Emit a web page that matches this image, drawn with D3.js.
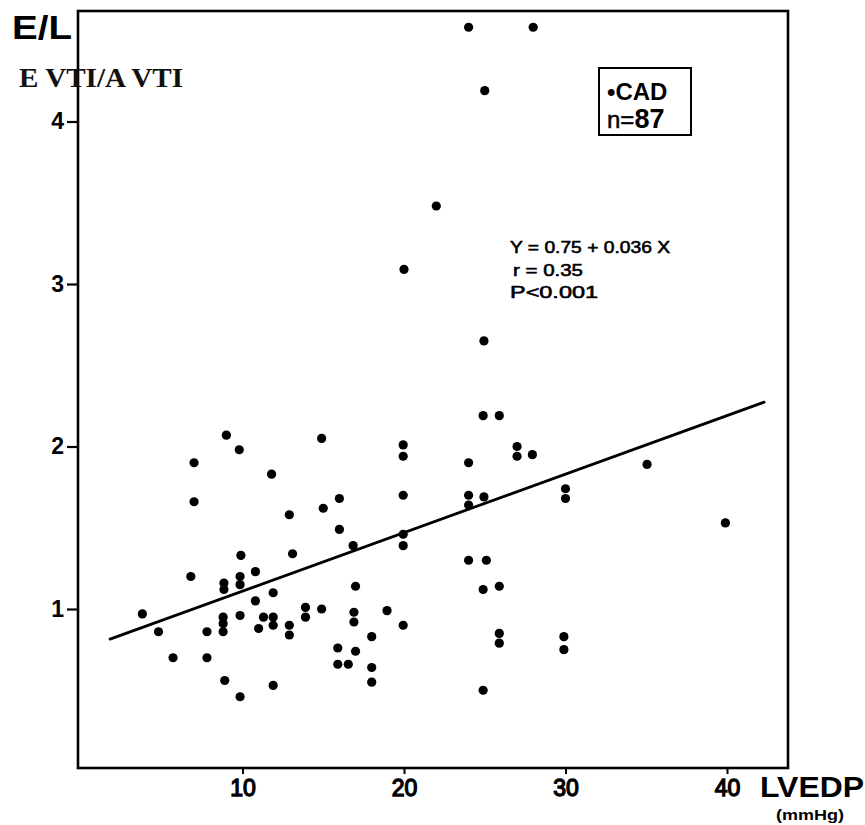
<!DOCTYPE html>
<html>
<head>
<meta charset="utf-8">
<script src="https://cdn.jsdelivr.net/npm/d3@7/dist/d3.min.js"></script>
<style>
  html, body { margin: 0; padding: 0; background: #fff; }
  svg { display: block; }
</style>
</head>
<body>
<div id="chart"></div>
<script>
// LVEDP (mmHg)
const lvedp = [
  9, 9.8, 7, 11.8, 7, 12.9, 9.9, 13.1, 10.8, 6.8,
  9.85, 9.85, 8.85, 8.85, 3.8, 4.8, 11.9, 10.8, 8.8, 8.8,
  8.8, 9.85, 11.3, 11.9, 11.9, 11, 12.9, 12.9, 7.8, 5.7,
  7.8, 8.9, 11.9, 9.85, 14.9, 19.95, 19.95, 19.95, 16, 15,
  16, 16.85, 19.95, 19.95, 17, 13.9, 13.9, 14.9, 16.9, 16.9,
  18.95, 19.95, 18, 15.9, 17, 15.9, 16.55, 18, 18, 24.9,
  25.9, 27, 27, 27.95, 24, 24, 24, 24.95, 30, 30,
  24, 25.1, 24.9, 25.9, 25.9, 25.9, 29.9, 29.9, 24.9, 24,
  28, 25, 22, 20, 24.95, 35.05, 39.9
];
// E VTI / A VTI
const ratio = [
  2.07, 1.98, 1.90, 1.83, 1.66, 1.58, 1.33, 1.34, 1.23, 1.20,
  1.20, 1.15, 1.16, 1.12, 0.97, 0.86, 1.10, 1.05, 0.95, 0.91,
  0.86, 0.96, 0.95, 0.95, 0.90, 0.88, 0.90, 0.84, 0.86, 0.70,
  0.70, 0.56, 0.53, 0.46, 2.05, 2.01, 1.94, 1.70, 1.68, 1.62,
  1.49, 1.39, 1.46, 1.39, 1.14, 1.01, 0.95, 1.00, 0.98, 0.92,
  0.99, 0.90, 0.83, 0.76, 0.74, 0.66, 0.66, 0.64, 0.55, 2.19,
  2.19, 2.00, 1.94, 1.95, 1.90, 1.70, 1.64, 1.69, 1.74, 1.68,
  1.30, 1.30, 1.12, 1.14, 0.85, 0.79, 0.83, 0.75, 0.50, 4.58,
  4.58, 4.19, 3.48, 3.09, 2.65, 1.89, 1.53
];
const xTicks = [10, 20, 30, 40];
const yTicks = [1, 2, 3, 4];
const fitIntercept = 0.75, fitSlope = 0.036;
const fitRange = [1.8, 42.3];
const statLines = ["Y = 0.75 + 0.036 X", "r = 0.35", "P<0.001"];

const W = 865, H = 825;
const frame = {left: 78, right: 788, top: 11, bottom: 768};

const svg = d3.select("#chart").append("svg")
  .attr("width", W).attr("height", H)
  .style("font-family", "'Liberation Sans', Arial, sans-serif");

const x = d3.scaleLinear().domain([0, 40]).range([81, 727]);
const y = d3.scaleLinear().domain([0, 4]).range([771.5, 121.5]);

// frame
svg.append("rect")
  .attr("x", frame.left).attr("y", frame.top)
  .attr("width", frame.right - frame.left).attr("height", frame.bottom - frame.top)
  .attr("fill", "none").attr("stroke", "#000").attr("stroke-width", 2.6);

// y axis
const gy = svg.append("g").attr("transform", `translate(${frame.left},0)`)
  .call(d3.axisLeft(y).tickValues(yTicks).tickSize(11).tickPadding(3).tickFormat(d3.format("d")));
gy.select(".domain").remove();
gy.selectAll(".tick line").attr("stroke", "#000").attr("stroke-width", 2.2);
gy.selectAll(".tick text").attr("fill", "#000")
  .style("font-size", "23px").style("font-weight", "bold");

// x axis
const gx = svg.append("g").attr("transform", `translate(0,${frame.bottom})`)
  .call(d3.axisBottom(x).tickValues(xTicks).tickSize(6).tickPadding(6).tickFormat(d3.format("d")));
gx.select(".domain").remove();
gx.selectAll(".tick line").attr("stroke", "#000").attr("stroke-width", 2);
gx.selectAll(".tick text").attr("fill", "#000")
  .style("font-size", "23px").style("font-weight", "normal")
  .attr("stroke", "#000").attr("stroke-width", 1.3);

// regression line
svg.append("line")
  .attr("x1", x(fitRange[0])).attr("y1", y(fitIntercept + fitSlope * fitRange[0]))
  .attr("x2", x(fitRange[1])).attr("y2", y(fitIntercept + fitSlope * fitRange[1]))
  .attr("stroke", "#000").attr("stroke-width", 2.8).attr("stroke-linecap", "round");

// points
svg.append("g").selectAll("circle")
  .data(lvedp.map((v, i) => [v, ratio[i]]))
  .join("circle")
  .attr("cx", d => x(d[0])).attr("cy", d => y(d[1]))
  .attr("r", 4.6).attr("fill", "#000");

// axis titles
svg.append("text").attr("x", 12).attr("y", 39)
  .style("font-size", "33px").style("font-weight", "bold")
  .attr("textLength", 60).attr("lengthAdjust", "spacingAndGlyphs").text("E/L");
svg.append("text").attr("x", 19).attr("y", 87)
  .style("font-family", "'Liberation Serif', 'Times New Roman', serif")
  .style("font-size", "28px").style("font-weight", "bold").attr("fill", "#111")
  .attr("textLength", 164).attr("lengthAdjust", "spacingAndGlyphs")
  .text("E VTI/A VTI");
svg.append("text").attr("x", 760).attr("y", 797)
  .style("font-size", "30px").style("font-weight", "bold")
  .attr("textLength", 104).attr("lengthAdjust", "spacingAndGlyphs").text("LVEDP");
svg.append("text").attr("x", 776).attr("y", 820)
  .style("font-size", "14px").style("font-weight", "bold")
  .attr("textLength", 68).attr("lengthAdjust", "spacingAndGlyphs").text("(mmHg)");

// legend box
svg.append("rect").attr("x", 599).attr("y", 68).attr("width", 92).attr("height", 67)
  .attr("fill", "none").attr("stroke", "#000").attr("stroke-width", 2);
svg.append("text").attr("x", 607).attr("y", 100)
  .style("font-size", "24px").style("font-weight", "bold").text("•CAD");
const nText = svg.append("text").attr("x", 607).attr("y", 128)
  .style("font-size", "24px").style("font-weight", "bold");
nText.append("tspan").style("font-weight", "normal").attr("stroke", "#000").attr("stroke-width", 0.5).text("n=");
nText.append("tspan").style("font-size", "27px").text("87");

// statistics
svg.append("g").selectAll("text").data(statLines).join("text")
  .attr("x", (d, i) => i === 1 ? 513 : 510)
  .attr("y", (d, i) => 253 + i * 22.5)
  .style("font-size", "17px").style("font-weight", "normal")
  .attr("stroke", "#000").attr("stroke-width", 0.6)
  .attr("textLength", (d, i) => [160, 70, 88][i]).attr("lengthAdjust", "spacingAndGlyphs")
  .text(d => d);
</script>
</body>
</html>
